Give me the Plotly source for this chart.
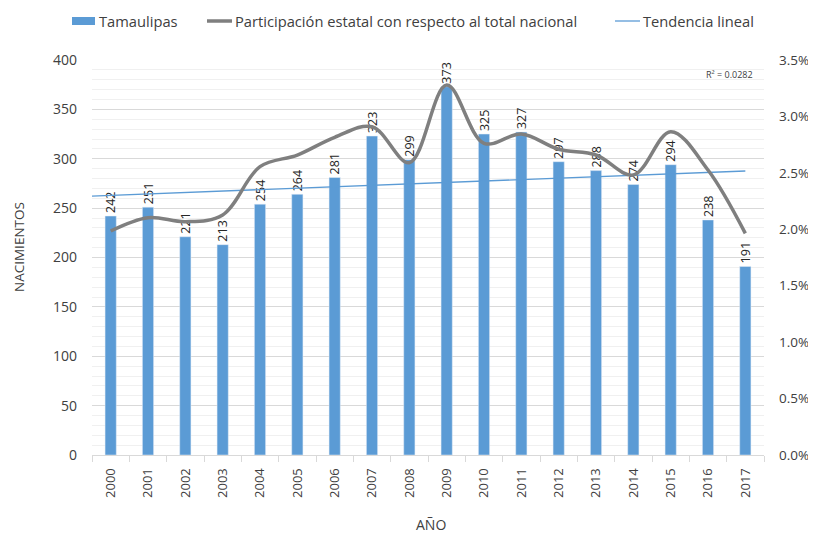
import numpy as np
import plotly.graph_objects as go
from plotly.subplots import make_subplots

years = ["2000", "2001", "2002", "2003", "2004", "2005", "2006", "2007", "2008",
         "2009", "2010", "2011", "2012", "2013", "2014", "2015", "2016", "2017"]
nacimientos = [242, 251, 221, 213, 254, 264, 281, 323, 299,
               373, 325, 327, 297, 288, 274, 294, 238, 191]
participacion = [0.01985, 0.02103, 0.02067, 0.02127, 0.02555, 0.02658, 0.02815, 0.02909, 0.02590,
                 0.03278, 0.02762, 0.02844, 0.02709, 0.02658, 0.02481, 0.02865, 0.02525, 0.01964]
legend_labels = ["Tamaulipas",
                 "Participación estatal con respecto al total nacional",
                 "Tendencia lineal"]
r2_label = "R² = 0.0282"

xs = list(range(len(years)))
slope, intercept = np.polyfit(xs, nacimientos, 1)
trend_x = [-0.5, len(years) - 1]
trend_y = [intercept + slope * x for x in trend_x]

FONT = "Open Sans"
BLUE = "#5b9bd5"
GRAY = "#7f7f7f"
TXT = "#404040"

# figure geometry (page shows figure offset by the 8px body margin)
OFF = 8
ML, MR, MT, MB = 84, 60, 52, 88
W, H = 816, 535
PW, PH = W - ML - MR, H - MT - MB


def px_x(ax):
    return (ax - OFF - ML) / PW


def px_y(ay):
    return (H - MB - (ay - OFF)) / PH


fig = make_subplots(specs=[[{"secondary_y": True}]])

fig.add_trace(go.Bar(
    x=xs, y=nacimientos, name=legend_labels[0], marker_color=BLUE, width=0.3,
    text=[str(v) for v in nacimientos], textposition="outside", textangle=-90,
    constraintext="none", showlegend=False,
    textfont=dict(family=FONT, size=12.5, color="#262626"), cliponaxis=False,
), secondary_y=False)

fig.add_trace(go.Scatter(
    x=trend_x, y=trend_y, mode="lines", name=legend_labels[2], showlegend=False,
    line=dict(color=BLUE, width=1.3),
), secondary_y=False)

fig.add_trace(go.Scatter(
    x=xs, y=participacion, mode="lines", name=legend_labels[1], showlegend=False,
    line=dict(color=GRAY, width=3.5, shape="spline", smoothing=1.0),
), secondary_y=True)

fig.update_layout(
    width=W, height=H,
    margin=dict(l=ML, r=MR, t=MT, b=MB, autoexpand=False),
    plot_bgcolor="white", paper_bgcolor="white",
    font=dict(family=FONT, size=14, color=TXT),
    showlegend=False,
)

fig.update_xaxes(
    domain=[0, 1],
    range=[-0.5, len(years) - 0.5], automargin=False,
    tickmode="array", tickvals=xs, ticktext=years, tickangle=-90,
    tickfont=dict(family=FONT, size=13, color=TXT),
    showgrid=False, zeroline=False,
    showline=True, linecolor="#d9d9d9", linewidth=1,
    ticks="", ticklabelstandoff=7,
    minor=dict(tick0=-0.5, dtick=1, ticks="outside", ticklen=6, tickcolor="#d9d9d9", showgrid=False),
)

fig.update_yaxes(
    range=[0, 400], dtick=50, secondary_y=False, automargin=False,
    showgrid=True, gridcolor="#d9d9d9", gridwidth=1,
    minor=dict(dtick=10, showgrid=True, gridcolor="#f0f0f0", gridwidth=1),
    zeroline=False, showline=False, ticks="", ticklabelstandoff=14,
    tickfont=dict(family=FONT, size=14, color=TXT),
)

fig.update_yaxes(
    range=[0, 0.035], dtick=0.005, tickformat=".1%", secondary_y=True, automargin=False,
    showgrid=False, zeroline=False, showline=False, ticks="", ticklabelstandoff=14,
    tickfont=dict(family=FONT, size=13.5, color=TXT),
)

# legend drawn at the top
LEG_Y = 21
fig.add_shape(type="rect", xref="paper", yref="paper",
              x0=px_x(72), x1=px_x(95), y0=px_y(LEG_Y - 4), y1=px_y(LEG_Y + 4),
              fillcolor=BLUE, line=dict(width=0))
fig.add_shape(type="line", xref="paper", yref="paper",
              x0=px_x(207), x1=px_x(232), y0=px_y(LEG_Y), y1=px_y(LEG_Y),
              line=dict(color=GRAY, width=3.5))
fig.add_shape(type="line", xref="paper", yref="paper",
              x0=px_x(615), x1=px_x(640), y0=px_y(LEG_Y), y1=px_y(LEG_Y),
              line=dict(color=BLUE, width=1.3))
for lab, ax0 in zip(legend_labels, [97, 233, 641]):
    fig.add_annotation(text=lab, xref="paper", yref="paper", x=px_x(ax0), y=px_y(LEG_Y),
                       xanchor="left", yanchor="middle", showarrow=False,
                       font=dict(family=FONT, size=14.7, color=TXT))

# axis titles
fig.add_annotation(
    text="NACIMIENTOS", textangle=-90, xref="paper", yref="paper",
    x=px_x(19), y=px_y(247), showarrow=False, xanchor="center", yanchor="middle",
    font=dict(family=FONT, size=13.5, color=TXT),
)
fig.add_annotation(
    text="AÑO", xref="paper", yref="paper",
    x=px_x(431), y=px_y(524), showarrow=False, xanchor="center", yanchor="middle",
    font=dict(family=FONT, size=14, color=TXT),
)

fig.add_annotation(
    text=r2_label, x=15.9, y=385, xref="x", yref="y", showarrow=False,
    font=dict(family=FONT, size=9, color=TXT), xanchor="left", yanchor="middle",
)

fig.write_html("out.html")
